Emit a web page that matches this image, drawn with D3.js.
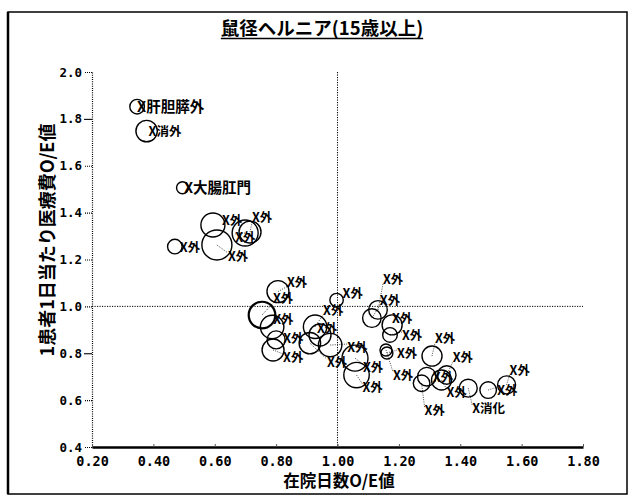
<!DOCTYPE html>
<html><head><meta charset="utf-8">
<script src="https://cdn.jsdelivr.net/npm/d3@7"></script>
<style>body{margin:0;background:#fff;} svg{display:block;}</style>
</head><body><svg id="c" width="635" height="497"></svg>
<script>
// ---- data ----
const chartTitle = "鼠径ヘルニア(15歳以上)";
const xTitle = "在院日数O/E値";
const yTitle = "1患者1日当たり医療費O/E値";
const xTicks = [0.2, 0.4, 0.6, 0.8, 1.0, 1.2, 1.4, 1.6, 1.8];
const xTickLabels = ["0.20", "0.40", "0.60", "0.80", "1.00", "1.20", "1.40", "1.60", "1.80"];
const yTicks = [0.4, 0.6, 0.8, 1.0, 1.2, 1.4, 1.6, 1.8, 2.0];
const yTickLabels = ["0.4", "0.6", "0.8", "1.0", "1.2", "1.4", "1.6", "1.8", "2.0"];
const refX = 1.0, refY = 1.0;

const hospitals = ["X肝胆膵外","X消外","X大腸肛門","X外","X外","X外","X外","X外",
  "X外","X外","X外","X外","X外","X外",
  "X外","X外","X外","X外","X外","X外",
  "X外","X外","X外","X外","X外","X外","X外",
  "X外","X外","X外","X外","X消化","X外","X外"];
const losOE = [0.347,0.378,0.495,0.470,0.594,0.607,0.699,0.715,
  0.806,0.754,0.787,0.800,0.790,0.997,
  0.927,0.943,0.910,0.976,1.057,1.062,
  1.132,1.112,1.178,1.171,1.161,1.158,1.308,
  1.274,1.291,1.339,1.356,1.426,1.491,1.551];
const costOE = [1.852,1.748,1.506,1.255,1.347,1.262,1.313,1.317,
  1.063,0.963,0.912,0.857,0.814,1.027,
  0.913,0.878,0.843,0.835,0.779,0.707,
  0.985,0.950,0.921,0.878,0.801,0.814,0.788,
  0.672,0.700,0.686,0.707,0.651,0.643,0.665];
const cases = [52,112,35,52,141,220,165,118,
  118,173,134,79,118,44,
  134,118,112,134,165,158,
  84,84,98,52,35,35,98,
  67,84,98,84,79,67,79];

// ---- layout (label offsets in px from bubble centre) ----
const labelDx = [0,2,1.5,5,9,11,-10,2,
  9,11,1,7,10,6,
  8,-3,17,17,8,6,
  5,8,0,12,10,7,3,
  3,6,5,6,4,9,3];
const labelDy = [5,5,5,5,0,16,9,-10,
  -5,-12,-3,3,12,-2,
  -12,-2,24,7,14,17,
  -26,-13,-2,5,5,30,-13,
  32,5,17,-13,25,5,-10];

const W = 635, H = 497;
const svg = d3.select("#c");
const CJK = "'Noto Sans CJK JP','Noto Sans CJK SC',sans-serif";
const MONO = "'DejaVu Sans Mono','Liberation Mono',monospace";

const x = d3.scaleLinear().domain([0.2, 1.8]).range([92, 583]);
const y = d3.scaleLinear().domain([0.4, 2.0]).range([447, 72]);
const r = d3.scaleSqrt().domain([0, 250]).range([0, 16]);

// outer frame
svg.append("rect").attr("x", 8).attr("y", 12).attr("width", 619).attr("height", 482)
  .attr("fill", "none").attr("stroke", "#000").attr("stroke-width", 1.5);
svg.append("line").attr("x1", 8).attr("x2", 8).attr("y1", 12).attr("y2", 494)
  .attr("stroke", "#000").attr("stroke-width", 2.5);

// title
const t = svg.append("text").attr("x", 322).attr("y", 35).attr("text-anchor", "middle")
  .attr("font-family", CJK).attr("font-size", 18.5).attr("font-weight", "bold").text(chartTitle);
const tl = t.node().getComputedTextLength();
svg.append("line").attr("x1", 322 - tl / 2).attr("x2", 322 + tl / 2).attr("y1", 38.5).attr("y2", 38.5)
  .attr("stroke", "#000").attr("stroke-width", 1.3);

// reference lines
svg.append("line").attr("x1", x(refX)).attr("x2", x(refX)).attr("y1", y(2.0)).attr("y2", y(0.4))
  .attr("stroke", "#000").attr("stroke-width", 1).attr("stroke-dasharray", "1.2,1.3");
svg.append("line").attr("x1", x(0.2)).attr("x2", x(1.8)).attr("y1", y(refY)).attr("y2", y(refY))
  .attr("stroke", "#000").attr("stroke-width", 1).attr("stroke-dasharray", "1.2,1.3");

// y axis
const gy = svg.append("g").attr("transform", `translate(${x(0.2)},0)`)
  .call(d3.axisLeft(y).tickValues(yTicks).tickFormat((d, i) => yTickLabels[i]).tickSize(8).tickPadding(2).tickSizeOuter(0));
gy.select(".domain").attr("stroke-dasharray", "1,1.2").attr("stroke-width", 1.2);
gy.selectAll(".tick line").attr("stroke-dasharray", (d) => (d === 1.8 || d === 0.8) ? null : "1,1").attr("stroke-width", 1.1);
gy.selectAll(".tick text").attr("font-family", MONO).attr("font-size", 12.5).attr("font-weight", "bold").attr("fill", "#000");

// x axis
const gx = svg.append("g").attr("transform", `translate(0,${y(0.4)})`)
  .call(d3.axisBottom(x).tickValues(xTicks).tickFormat((d, i) => xTickLabels[i]).tickSize(-3).tickPadding(9.5).tickSizeOuter(0));
gx.select(".domain").attr("stroke-width", 2.5);
gx.selectAll(".tick line").attr("stroke", "#555").attr("stroke-width", 1);
gx.selectAll(".tick text").attr("font-family", MONO).attr("font-size", 13.5).attr("font-weight", "bold").attr("fill", "#000");

// axis titles
svg.append("text").attr("x", 339).attr("y", 487).attr("text-anchor", "middle")
  .attr("font-family", CJK).attr("font-size", 16.5).attr("font-weight", "bold").text(xTitle);
svg.append("text").attr("transform", "translate(54,240) rotate(-90)").attr("text-anchor", "middle")
  .attr("font-family", CJK).attr("font-size", 18).attr("font-weight", "bold").text(yTitle);

// bubbles
const pts = hospitals.map((h, i) => ({ h, lx: losOE[i], cy: costOE[i], n: cases[i], dx: labelDx[i], dy: labelDy[i] }));
const g = svg.append("g");
// leaders
g.selectAll("line.lead").data(pts.filter(p => Math.hypot(p.dx, p.dy) > 10)).join("line")
  .attr("x1", p => x(p.lx)).attr("y1", p => y(p.cy))
  .attr("x2", p => x(p.lx) + p.dx).attr("y2", p => y(p.cy) + p.dy - (p.dy > 0 ? 8 : 0))
  .attr("stroke", "#333").attr("stroke-width", 0.9).attr("stroke-dasharray", "1,1.3");
g.selectAll("circle").data(pts).join("circle")
  .attr("cx", p => x(p.lx)).attr("cy", p => y(p.cy)).attr("r", p => r(p.n))
  .attr("fill", "none").attr("stroke", "#000").attr("stroke-width", p => p.n === 173 ? 2.2 : 1.4);
g.selectAll("text").data(pts).join("text")
  .attr("x", p => x(p.lx) + p.dx).attr("y", p => y(p.cy) + p.dy)
  .attr("font-family", CJK).attr("font-weight", "bold")
  .attr("font-size", p => p.h.length > 3 ? 14.5 : 12.5)
  .text(p => p.h);
</script></body></html>
